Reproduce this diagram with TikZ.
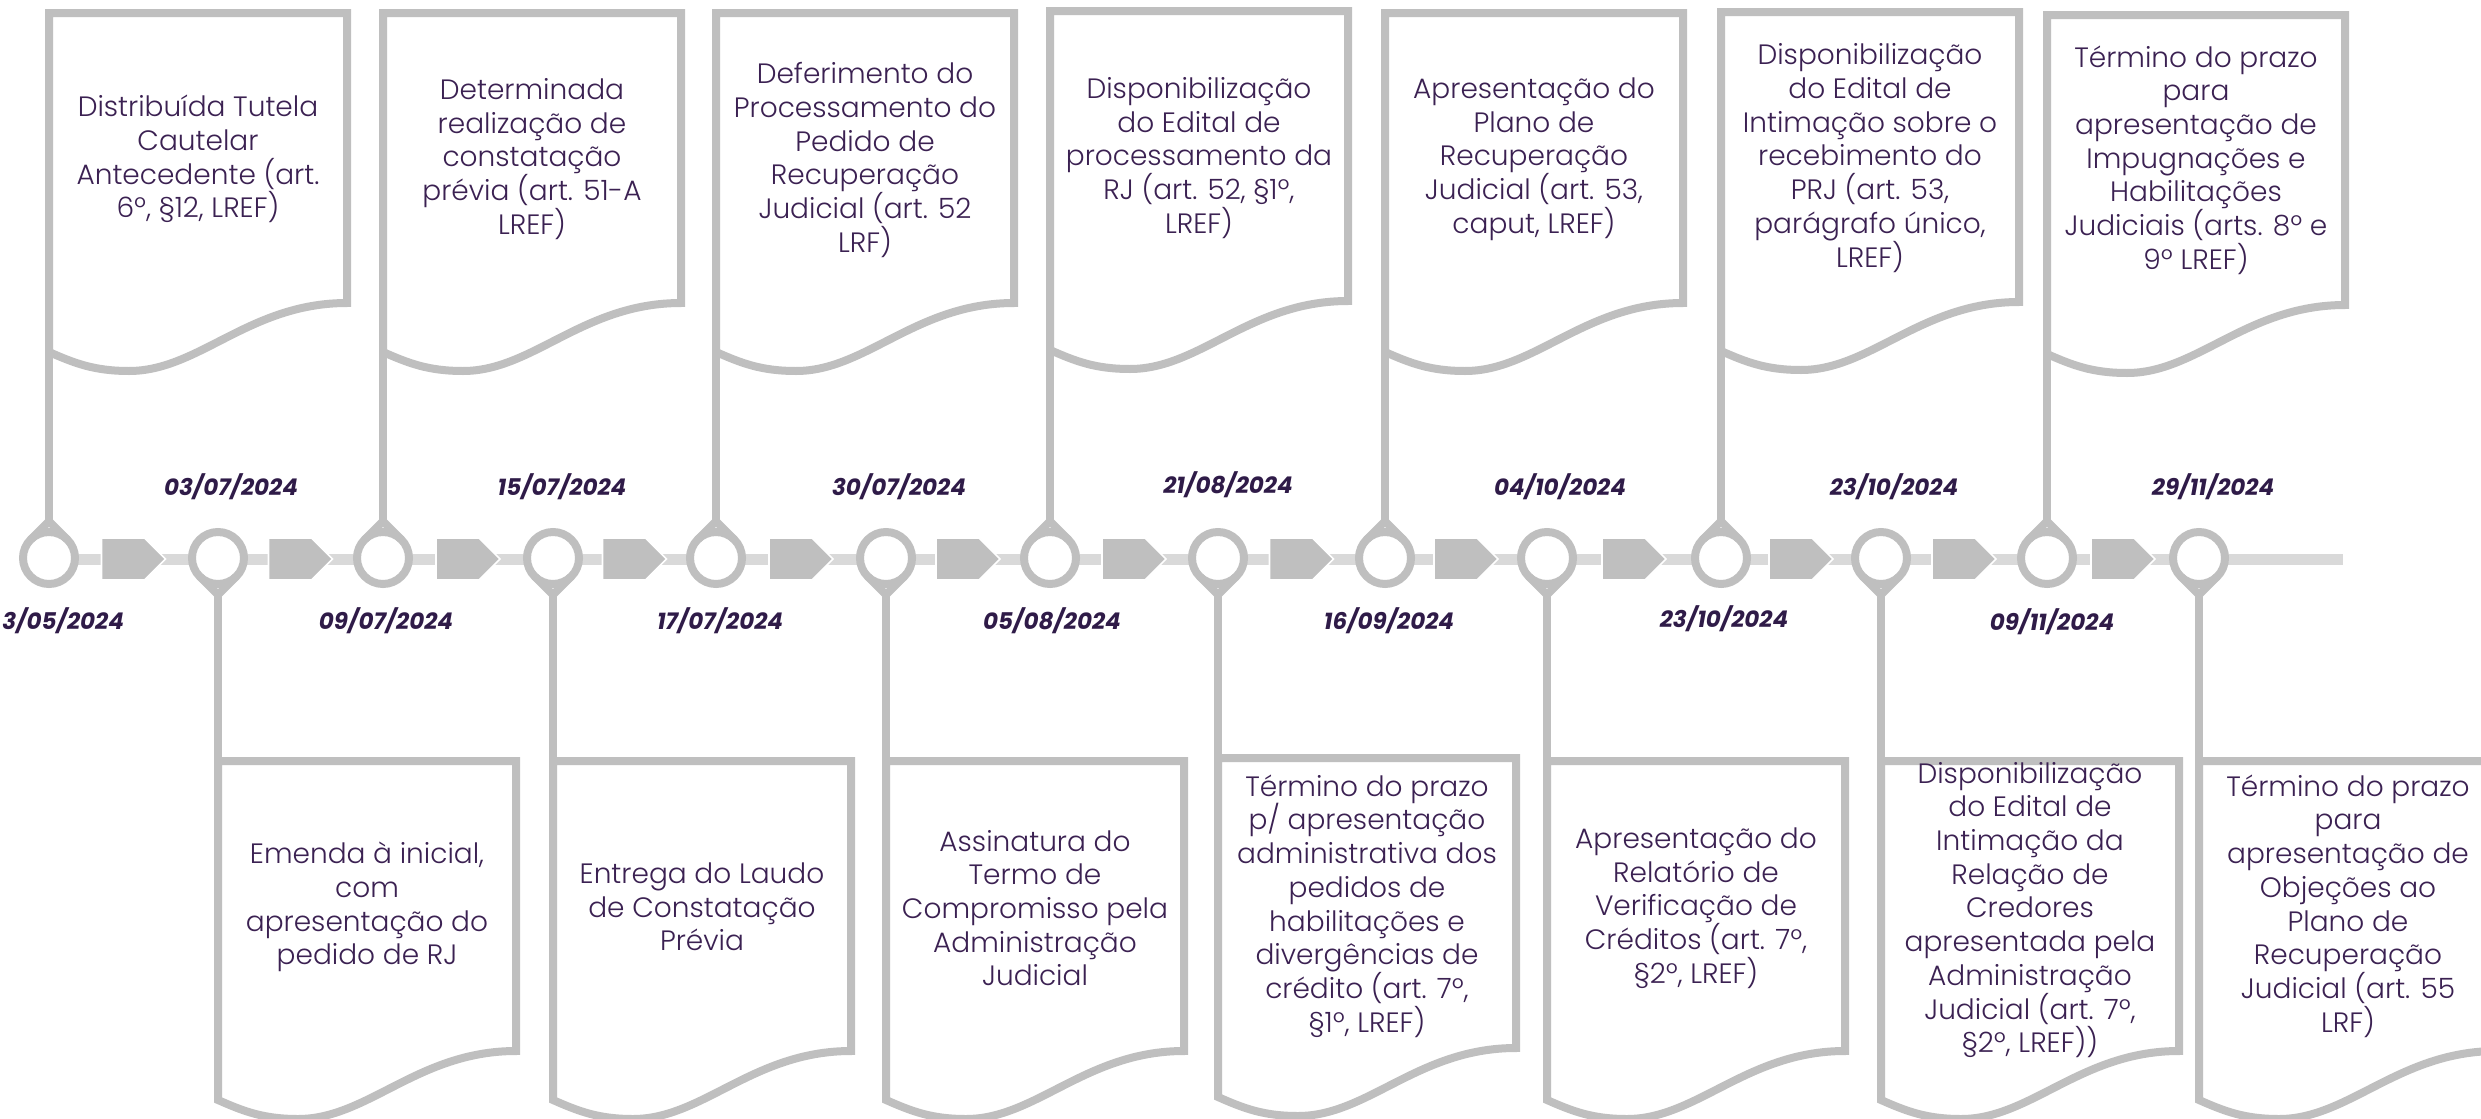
\documentclass[tikz,border=0pt]{standalone}
\usepackage{fontspec}
\IfFontExistsTF{Poppins Light}{\newfontfamily\bodyfont{Poppins Light}}{\newfontfamily\bodyfont{Poppins}}
\newfontfamily\datefont{Poppins}
\definecolor{linegray}{HTML}{BFBFBF}
\definecolor{axisgray}{HTML}{D9D9D9}
\definecolor{txtpurple}{HTML}{3B2152}
\definecolor{datepurple}{HTML}{2F1B48}
\tikzset{
  docbox/.style={draw=linegray, line width=4pt, fill=white, line join=miter},
  pinline/.style={draw=linegray, line width=4pt},
  chev/.style={fill=linegray, draw=white, line width=0.8pt},
  axisline/.style={draw=axisgray, line width=5.5pt},
  bodytxt/.style={font=\bodyfont\fontsize{14}{16.85}\selectfont, text=txtpurple, align=center, inner sep=0pt},
  datetxt/.style={font=\datefont\bfseries\itshape\fontsize{11.5}{13}\selectfont, text=datepurple, inner sep=0pt},
}
% #1 x of pin, #2 name of tip coordinate
\newcommand\myuppin[2]{%
  \draw[pinline, fill=white] (#1,558) circle (26);
  \coordinate (#2) at (#1,521.2);
  \draw[pinline, line join=miter] (#1-18.4,539.6) -- (#2) -- (#1+18.4,539.6);
}
\newcommand\mydownpin[2]{%
  \draw[pinline, fill=white] (#1,558) circle (26);
  \coordinate (#2) at (#1,594.8);
  \draw[pinline, line join=miter] (#1-18.4,576.4) -- (#2) -- (#1+18.4,576.4);
}
% #1 left x, #2 top y, #3 name of left-bottom corner coordinate, #4 name of top-left corner
\newcommand\mydoc[4]{%
  \coordinate (#3) at (#1,#2+339);
  \coordinate (#4) at (#1,#2);
  \draw[docbox] (#3) -- (#4) -- (#1+298,#2) -- (#1+298,#2+290)
    .. controls (#1+200,#2+290) and (#1+150,#2+358) .. (#1+80,#2+358)
    .. controls (#1+45,#2+358) and (#1+25,#2+350) .. (#3) -- cycle;
}
\begin{document}
\begin{tikzpicture}[x=0.5pt,y=-0.5pt]
\useasboundingbox (0,0) rectangle (2481,1119);

% axis
\coordinate (axstart) at (49,559);
\coordinate (axend) at (2343,559);
\draw[axisline] (axstart) -- (axend);

% chevrons
\foreach \a/\b in {49/218,218/383,383/553,553/716,716/886,886/1050,1050/1218,1218/1385,1385/1547,1547/1721,1721/1881,1881/2047,2047/2199}{
  \pgfmathsetmacro\m{(\a+\b)/2}
  \filldraw[chev] (\m-32,538) -- (\m+11,538) -- (\m+32,559) -- (\m+11,580) -- (\m-32,580) -- cycle;
}

% top documents
\mydoc{49}{13}{tb1}{tt1}
\mydoc{383}{13}{tb2}{tt2}
\mydoc{716}{13}{tb3}{tt3}
\mydoc{1050}{11}{tb4}{tt4}
\mydoc{1385}{13}{tb5}{tt5}
\mydoc{1721}{12}{tb6}{tt6}
\mydoc{2047}{15}{tb7}{tt7}

% bottom documents
\mydoc{218}{761}{bb1}{bt1}
\mydoc{553}{761}{bb2}{bt2}
\mydoc{886}{761}{bb3}{bt3}
\mydoc{1218}{758}{bb4}{bt4}
\mydoc{1547}{761}{bb5}{bt5}
\mydoc{1881}{761}{bb6}{bt6}
\mydoc{2199}{761}{bb7}{bt7}

% pins
\myuppin{49}{p1}
\mydownpin{218}{p2}
\myuppin{383}{p3}
\mydownpin{553}{p4}
\myuppin{716}{p5}
\mydownpin{886}{p6}
\myuppin{1050}{p7}
\mydownpin{1218}{p8}
\myuppin{1385}{p9}
\mydownpin{1547}{p10}
\myuppin{1721}{p11}
\mydownpin{1881}{p12}
\myuppin{2047}{p13}
\mydownpin{2199}{p14}

% stems
\draw[pinline] (p1) -- (tb1);
\draw[pinline] (p3) -- (tb2);
\draw[pinline] (p5) -- (tb3);
\draw[pinline] (p7) -- (tb4);
\draw[pinline] (p9) -- (tb5);
\draw[pinline] (p11) -- (tb6);
\draw[pinline] (p13) -- (tb7);
\draw[pinline] (p2) -- (bt1);
\draw[pinline] (p4) -- (bt2);
\draw[pinline] (p6) -- (bt3);
\draw[pinline] (p8) -- (bt4);
\draw[pinline] (p10) -- (bt5);
\draw[pinline] (p12) -- (bt6);
\draw[pinline] (p14) -- (bt7);

% top texts
\node[bodytxt] (x1) at (198,159) {Distribuída Tutela\\Cautelar\\Antecedente (art.\\6º, §12, LREF)};
\node[bodytxt] (x3) at (532,159) {Determinada\\realização de\\constatação\\prévia (art. 51-A\\LREF)};
\node[bodytxt] (x5) at (865,160) {Deferimento do\\Processamento do\\Pedido de\\Recuperação\\Judicial (art. 52\\LRF)};
\node[bodytxt] (x7) at (1199,158) {Disponibilização\\do Edital de\\processamento da\\RJ (art. 52, §1º,\\LREF)};
\node[bodytxt] (x9) at (1534,159) {Apresentação do\\Plano de\\Recuperação\\Judicial (art. 53,\\caput, LREF)};
\node[bodytxt] (x11) at (1870,158) {Disponibilização\\do Edital de\\Intimação sobre o\\recebimento do\\PRJ (art. 53,\\parágrafo único,\\LREF)};
\node[bodytxt] (x13) at (2196,160) {Término do prazo\\para\\apresentação de\\Impugnações e\\Habilitações\\Judiciais (arts. 8º e\\9º LREF)};

% bottom texts
\node[bodytxt] (x2) at (367,907) {Emenda à inicial,\\com\\apresentação do\\pedido de RJ};
\node[bodytxt] (x4) at (702,907) {Entrega do Laudo\\de Constatação\\Prévia};
\node[bodytxt] (x6) at (1035,908) {Assinatura do\\Termo de\\Compromisso pela\\Administração\\Judicial};
\node[bodytxt] (x8) at (1367,906) {Término do prazo\\p/ apresentação\\administrativa dos\\pedidos de\\habilitações e\\divergências de\\crédito (art. 7º,\\§1º, LREF)};
\node[bodytxt] (x10) at (1696,908) {Apresentação do\\Relatório de\\Verificação de\\Créditos (art. 7º,\\§2º, LREF)};
\node[bodytxt] (x12) at (2030,910) {Disponibilização\\do Edital de\\Intimação da\\Relação de\\Credores\\apresentada pela\\Administração\\Judicial (art. 7º,\\§2º, LREF))};
\node[bodytxt] (x14) at (2348,906) {Término do prazo\\para\\apresentação de\\Objeções ao\\Plano de\\Recuperação\\Judicial (art. 55\\LRF)};

% dates
\node[datetxt, anchor=west] (d1) at (2,621) {3/05/2024};
\node[datetxt] (d2) at (231,487) {03/07/2024};
\node[datetxt] (d3) at (386,621) {09/07/2024};
\node[datetxt] (d4) at (562,487) {15/07/2024};
\node[datetxt] (d5) at (720,621) {17/07/2024};
\node[datetxt] (d6) at (899,487) {30/07/2024};
\node[datetxt] (d7) at (1052,621) {05/08/2024};
\node[datetxt] (d8) at (1228,485) {21/08/2024};
\node[datetxt] (d9) at (1389,621) {16/09/2024};
\node[datetxt] (d10) at (1560,487) {04/10/2024};
\node[datetxt] (d11) at (1724,619) {23/10/2024};
\node[datetxt] (d12) at (1894,487) {23/10/2024};
\node[datetxt] (d13) at (2052,622) {09/11/2024};
\node[datetxt] (d14) at (2213,487) {29/11/2024};
\end{tikzpicture}
\end{document}
